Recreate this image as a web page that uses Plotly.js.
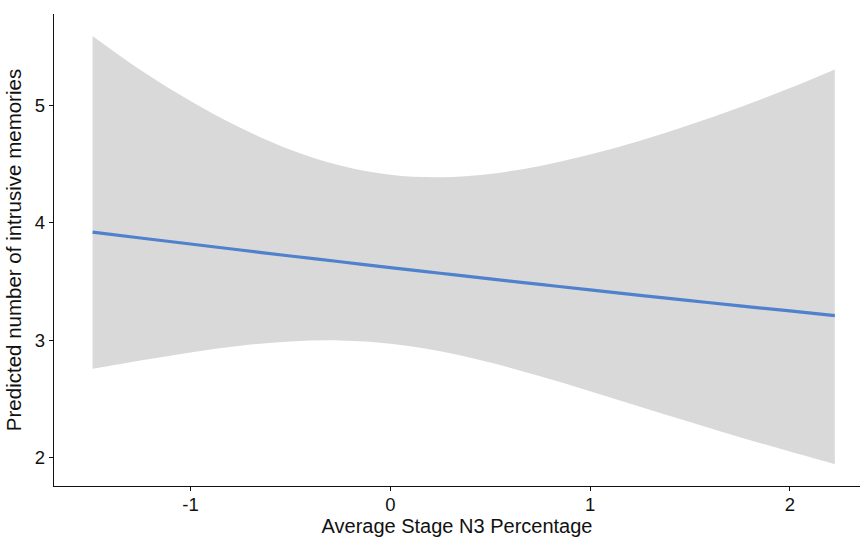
<!DOCTYPE html>
<html>
<head>
<meta charset="utf-8">
<script src="https://cdn.plot.ly/plotly-3.0.1.min.js"></script>
<style>html,body{margin:0;padding:0;background:#fff;}#chart{width:861px;height:537px;}</style>
</head>
<body>
<div id="chart"></div>
<script>
// Values
var n3Percentage = [-1.49, -1.25, -1, -0.75, -0.5, -0.25, 0, 0.25, 0.5, 0.75, 1, 1.25, 1.5, 1.75, 2, 2.225];
var predicted    = [3.92, 3.869, 3.818, 3.767, 3.716, 3.667, 3.617, 3.569, 3.521, 3.474, 3.427, 3.381, 3.336, 3.291, 3.248, 3.208];
var upperCI      = [5.59, 5.30, 5.036, 4.808, 4.621, 4.486, 4.407, 4.386, 4.415, 4.483, 4.580, 4.698, 4.834, 4.983, 5.146, 5.305];
var lowerCI      = [2.755, 2.825, 2.895, 2.952, 2.988, 2.997, 2.969, 2.904, 2.808, 2.692, 2.565, 2.433, 2.302, 2.173, 2.050, 1.943];
var xTickVals = [-1, 0, 1, 2];
var yTickVals = [2, 3, 4, 5];
var xTitle = "Average Stage N3 Percentage";
var yTitle = "Predicted number of intrusive memories";

var traces = [
  {x: n3Percentage, y: lowerCI, type: 'scatter', mode: 'lines',
   line: {width: 0, color: 'rgba(0,0,0,0)', shape: 'spline'}, hoverinfo: 'skip', showlegend: false},
  {x: n3Percentage, y: upperCI, type: 'scatter', mode: 'lines', fill: 'tonexty',
   fillcolor: '#d9d9d9', line: {width: 0, color: 'rgba(0,0,0,0)', shape: 'spline'}, hoverinfo: 'skip', showlegend: false},
  {x: n3Percentage, y: predicted, type: 'scatter', mode: 'lines',
   line: {color: '#4f81cc', width: 3.2, shape: 'spline'}, showlegend: false}
];

var font = {family: '"Liberation Sans", Arial, Helvetica, sans-serif', color: '#111'};
var layout = {
  width: 861, height: 537,
  margin: {l: 54, r: 1, t: 14, b: 51},
  paper_bgcolor: '#fff', plot_bgcolor: '#fff',
  showlegend: false,
  font: font,
  xaxis: {
    range: [-1.683, 2.351], tickvals: xTickVals, ticktext: xTickVals.map(String),
    showgrid: false, zeroline: false, showline: true, linecolor: '#111', linewidth: 1.3,
    ticks: 'outside', ticklen: 4, tickwidth: 1.1, tickcolor: '#111', ticklabelstandoff: -3,
    tickfont: {size: 18.5, family: font.family, color: '#111'},
    title: {text: xTitle, font: {size: 20, family: font.family, color: '#111'}, standoff: 7}
  },
  yaxis: {
    range: [1.757, 5.777], tickvals: yTickVals, ticktext: yTickVals.map(String),
    showgrid: false, zeroline: false, showline: true, linecolor: '#111', linewidth: 1.3,
    ticks: 'outside', ticklen: 4, tickwidth: 1.1, tickcolor: '#111',
    tickfont: {size: 18.5, family: font.family, color: '#111'},
    title: {text: yTitle, font: {size: 20.5, family: font.family, color: '#111'}, standoff: 7}
  }
};
Plotly.newPlot('chart', traces, layout, {displayModeBar: false, staticPlot: true});
</script>
</body>
</html>
